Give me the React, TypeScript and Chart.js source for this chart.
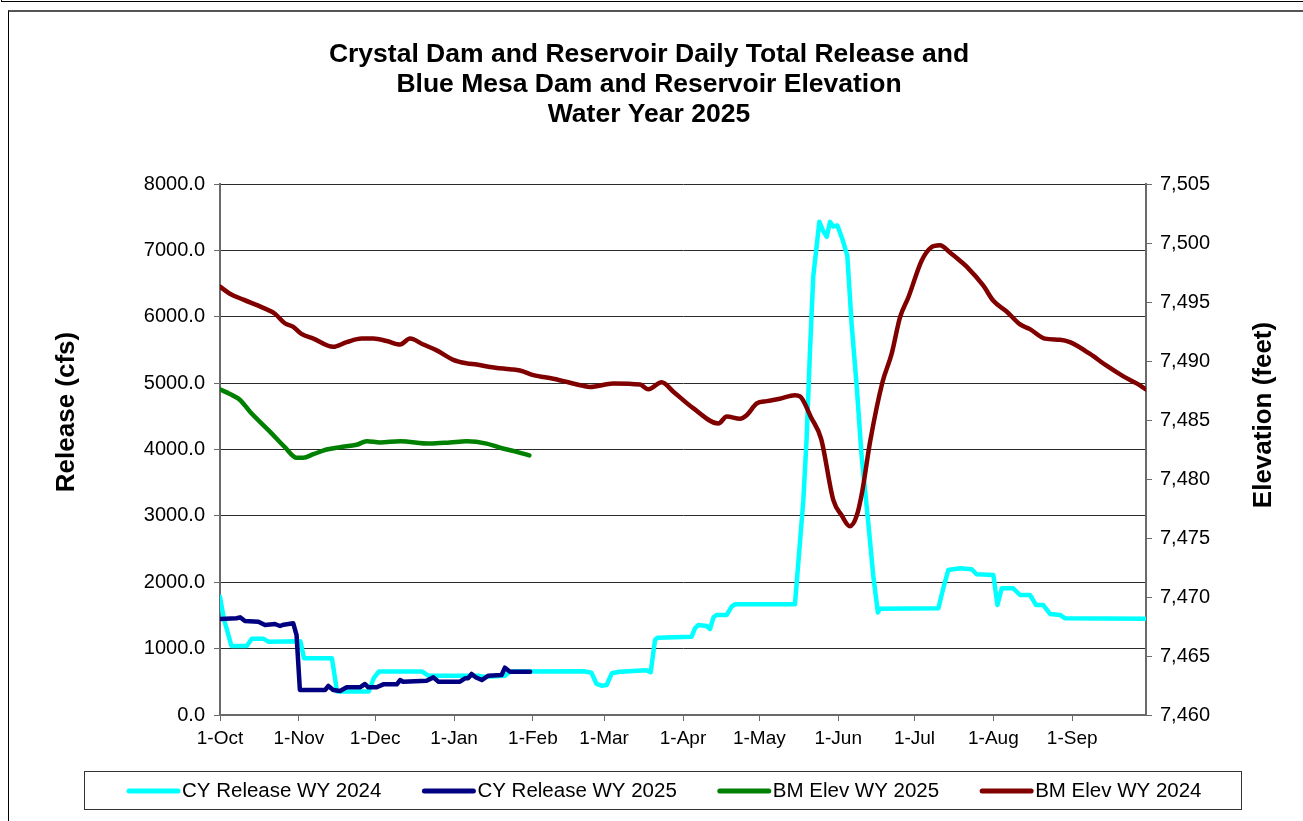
import React, { useEffect, useRef } from "react";
import { Chart, registerables } from "chart.js";

Chart.register(...registerables);

const FONT = "'Liberation Sans', Arial, Helvetica, sans-serif";

const titleLines = [
  "Crystal Dam and Reservoir Daily Total Release and",
  "Blue Mesa Dam and Reservoir Elevation",
  "Water Year 2025",
];
const leftAxisTitle = "Release (cfs)";
const rightAxisTitle = "Elevation (feet)";

// Days since 1-Oct
const monthDays = [0, 31, 61, 92, 123, 151, 182, 212, 243, 273, 304, 335];
const monthLabels = ["1-Oct", "1-Nov", "1-Dec", "1-Jan", "1-Feb", "1-Mar", "1-Apr", "1-May", "1-Jun", "1-Jul", "1-Aug", "1-Sep"];
const dayMin = 0;
const dayMax = 364;

const releaseMin = 0;
const releaseMax = 8000;
const releaseStep = 1000;
const elevMin = 7460;
const elevMax = 7505;
const elevStep = 5;

const seriesNames = ["CY Release WY 2024", "CY Release WY 2025", "BM Elev WY 2025", "BM Elev WY 2024"];
const seriesColors = ["#00FFFF", "#000080", "#008000", "#800000"];

// CY Release WY 2024 (cfs)
const cy2024Days = [0, 1.5, 4.5, 10.5, 12.5, 17, 19, 31.6, 33, 44, 46, 58.5, 60.5, 62.5, 79.5, 82, 102, 104, 108, 112, 114, 143, 146, 148, 150, 152, 154, 157, 167.7, 169.3, 171, 172, 185.4, 186.7, 188, 191.3, 192.6, 194, 195.2, 199.2, 201.1, 202.4, 226, 226.7, 229.3, 230.6, 231.9, 233.2, 235.6, 237, 238.5, 239.8, 241, 242.7, 244.8, 246.6, 248.3, 250.3, 252.2, 254.9, 256.8, 258.6, 259.4, 282.4, 284.3, 286.3, 290.9, 295.5, 297.4, 304, 305.6, 307.3, 311.8, 314.5, 318.4, 320.8, 323.6, 326.3, 330.2, 332.2, 364];
const cy2024Values = [1780, 1450, 1040, 1040, 1150, 1150, 1105, 1110, 855, 855, 355, 355, 560, 655, 655, 590, 590, 575, 585, 590, 655, 660, 637, 470, 442, 452, 628, 652, 675, 645, 1130, 1165, 1180, 1306, 1356, 1341, 1296, 1472, 1507, 1507, 1632, 1667, 1667, 1990, 3233, 4167, 5466, 6606, 7430, 7300, 7205, 7430, 7360, 7375, 7152, 6918, 5880, 4946, 3908, 2870, 2093, 1545, 1600, 1607, 1909, 2185, 2210, 2195, 2120, 2109, 1657, 1909, 1909, 1808, 1808, 1657, 1657, 1522, 1507, 1456, 1450];

// CY Release WY 2025 (cfs)
const cy2025Days = [0, 6.5, 7.9, 9.8, 15.1, 17.7, 21.6, 23.6, 25, 28.8, 30.1, 31.4, 41.3, 42.6, 44.5, 47.2, 49.8, 55, 57, 58.3, 61.6, 64.2, 69.5, 70.8, 72, 81.2, 83.9, 85.8, 94.3, 96.3, 97.5, 98.9, 100.5, 102.9, 105.5, 110.7, 112, 114, 121.9];
const cy2025Values = [1446, 1457, 1472, 1416, 1406, 1356, 1371, 1341, 1361, 1381, 1205, 377, 377, 437, 377, 362, 417, 417, 467, 417, 417, 462, 462, 527, 500, 517, 567, 502, 502, 552, 552, 618, 570, 527, 593, 603, 713, 653, 653];

// BM Elev WY 2025 (feet)
const bm2025Days = [0, 3.9, 7.9, 11.8, 19.7, 25.5, 30.1, 32.7, 36.7, 41.9, 47.2, 53.7, 57.7, 62.9, 70.8, 82.5, 90.4, 97, 104.8, 110.1, 116.6, 121.6];
const bm2025Values = [7487.6, 7487.2, 7486.7, 7485.7, 7484.0, 7482.7, 7481.8, 7481.8, 7482.1, 7482.5, 7482.7, 7482.9, 7483.2, 7483.1, 7483.2, 7483.0, 7483.1, 7483.2, 7483.0, 7482.65, 7482.3, 7482.0];

// BM Elev WY 2024 (feet)
const bm2024Days = [0, 3.9, 9.2, 17, 21.6, 25.5, 28.8, 32, 36.7, 44.5, 49.8, 55.7, 60.3, 65.5, 70.8, 74.7, 79.9, 85.2, 91.7, 97, 100.9, 106.1, 114, 117.9, 123.2, 131, 142.8, 145.4, 154.6, 165.1, 168.4, 173.6, 178.2, 186, 195.9, 199.2, 204.4, 207, 211, 214.9, 220.1, 226, 228, 232.4, 236.3, 241.1, 244.4, 247.6, 250.3, 252.5, 255.5, 260.4, 264, 267.3, 270.6, 275.8, 279.4, 283, 286.9, 290.9, 293.5, 300, 304, 309.2, 314.5, 318.4, 324.3, 330.2, 334.1, 342, 348.5, 355.1, 360.3, 364];
const bm2024Values = [7496.3, 7495.7, 7495.2, 7494.5, 7494.0, 7493.2, 7492.9, 7492.3, 7491.9, 7491.2, 7491.6, 7491.9, 7491.9, 7491.7, 7491.4, 7491.9, 7491.4, 7490.9, 7490.1, 7489.8, 7489.7, 7489.5, 7489.3, 7489.2, 7488.8, 7488.5, 7487.9, 7487.8, 7488.1, 7488.0, 7487.6, 7488.2, 7487.4, 7486.0, 7484.7, 7485.3, 7485.1, 7485.4, 7486.4, 7486.6, 7486.8, 7487.1, 7487.0, 7485.2, 7483.4, 7478.2, 7476.9, 7476.0, 7476.9, 7479.0, 7483.1, 7488.2, 7490.6, 7493.7, 7495.4, 7498.5, 7499.6, 7499.8, 7499.2, 7498.5, 7498.0, 7496.4, 7495.1, 7494.2, 7493.1, 7492.7, 7491.9, 7491.8, 7491.6, 7490.6, 7489.6, 7488.7, 7488.1, 7487.6];

const toPoints = (days: number[], vals: number[]) => days.map((d, i) => ({ x: d, y: vals[i] }));

const AXIS_GRAY = "#6a6a6a";

const decorPlugin = {
  id: "decor",
  afterDraw(chart: any) {
    const ctx = chart.ctx as CanvasRenderingContext2D;
    ctx.save();
    ctx.fillStyle = "#000";
    ctx.textAlign = "center";
    ctx.textBaseline = "middle";
    ctx.font = `bold 26.5px ${FONT}`;
    titleLines.forEach((t, i) => ctx.fillText(t, 649, 55 + i * 30));

    ctx.font = `bold 26px ${FONT}`;
    ctx.save();
    ctx.translate(67, 412);
    ctx.rotate(-Math.PI / 2);
    ctx.fillText(leftAxisTitle, 0, 0);
    ctx.restore();

    ctx.save();
    ctx.translate(1264, 415);
    ctx.rotate(-Math.PI / 2);
    ctx.fillText(rightAxisTitle, 0, 0);
    ctx.restore();

    // legend box
    ctx.strokeStyle = "#333";
    ctx.lineWidth = 1;
    ctx.strokeRect(84.5, 771.5, 1157, 38);
    ctx.font = `20.5px ${FONT}`;
    ctx.textAlign = "left";
    let x = 129;
    const y = 791;
    seriesNames.forEach((name, i) => {
      ctx.strokeStyle = seriesColors[i];
      ctx.lineWidth = 5;
      ctx.lineCap = "round";
      ctx.beginPath();
      ctx.moveTo(x, y);
      ctx.lineTo(x + 49, y);
      ctx.stroke();
      const tx = x + 53;
      ctx.fillStyle = "#000";
      ctx.fillText(name, tx, y);
      x = tx + ctx.measureText(name).width + 43;
    });
    ctx.restore();
  },
};

export default function App() {
  const ref = useRef<HTMLCanvasElement | null>(null);

  useEffect(() => {
    if (!ref.current) return;
    const lineOpts = {
      pointRadius: 0,
      borderWidth: 4.5,
      tension: 0,
      borderJoinStyle: "round" as const,
      borderCapStyle: "round" as const,
      fill: false,
    };
    const smoothOpts = { ...lineOpts, cubicInterpolationMode: "monotone" as const };
    const chart = new Chart(ref.current, {
      type: "line",
      data: {
        datasets: [
          { ...lineOpts, label: seriesNames[0], data: toPoints(cy2024Days, cy2024Values), borderColor: seriesColors[0], yAxisID: "y", order: 3 },
          { ...lineOpts, label: seriesNames[1], data: toPoints(cy2025Days, cy2025Values), borderColor: seriesColors[1], yAxisID: "y", order: 2 },
          { ...smoothOpts, label: seriesNames[2], data: toPoints(bm2025Days, bm2025Values), borderColor: seriesColors[2], yAxisID: "y1", order: 1 },
          { ...smoothOpts, label: seriesNames[3], data: toPoints(bm2024Days, bm2024Values), borderColor: seriesColors[3], yAxisID: "y1", order: 0 },
        ],
      },
      options: {
        responsive: false,
        animation: false,
        devicePixelRatio: 1,
        layout: { padding: { left: 40, right: 40, top: 184, bottom: 60 } },
        plugins: {
          legend: { display: false },
          title: { display: false },
          tooltip: { enabled: false },
        },
        scales: {
          x: {
            type: "linear",
            min: dayMin,
            max: dayMax,
            afterBuildTicks: (s: any) => {
              s.ticks = monthDays.map((v) => ({ value: v }));
            },
            afterFit: (s: any) => {
              s.height = 46;
            },
            ticks: {
              autoSkip: false,
              maxRotation: 0,
              minRotation: 0,
              padding: 6,
              color: "#000",
              font: { family: FONT, size: 19 },
              callback: (_v: any, i: number) => monthLabels[i] ?? "",
            },
            grid: { drawOnChartArea: false, tickLength: 6, color: AXIS_GRAY, tickWidth: 1 },
            border: { display: true, color: AXIS_GRAY, width: 2 },
          },
          y: {
            type: "linear",
            position: "left",
            min: releaseMin,
            max: releaseMax,
            afterFit: (s: any) => {
              s.width = 180;
            },
            ticks: {
              stepSize: releaseStep,
              padding: 9,
              color: "#000",
              font: { family: FONT, size: 20 },
              callback: (v: any) => Number(v).toFixed(1),
            },
            grid: { color: "#2a2a2a", lineWidth: 1, tickLength: 6, tickColor: AXIS_GRAY },
            border: { display: true, color: AXIS_GRAY, width: 2 },
          },
          y1: {
            type: "linear",
            position: "right",
            min: elevMin,
            max: elevMax,
            afterFit: (s: any) => {
              s.width = 117;
            },
            ticks: {
              stepSize: elevStep,
              padding: 8,
              color: "#000",
              font: { family: FONT, size: 20 },
              callback: (v: any) => Number(v).toLocaleString("en-US"),
            },
            grid: { drawOnChartArea: false, tickLength: 6, color: AXIS_GRAY },
            border: { display: true, color: AXIS_GRAY, width: 2 },
          },
        },
      },
      plugins: [decorPlugin],
    });
    return () => chart.destroy();
  }, []);

  return (
    <div style={{ position: "absolute", left: 0, top: 0, width: 1303, height: 821, overflow: "hidden", background: "#fff" }}>
      <div style={{ position: "absolute", left: 1, top: -10, width: 1310, height: 11, borderLeft: "1px solid #000", borderBottom: "1px solid #000" }} />
      <div style={{ position: "absolute", left: 8, top: 10, width: 1310, height: 900, borderLeft: "1px solid #000", borderTop: "2px solid #555" }} />
      <canvas ref={ref} width={1303} height={821} style={{ position: "absolute", left: 0, top: 0, width: 1303, height: 821 }} />
    </div>
  );
}
